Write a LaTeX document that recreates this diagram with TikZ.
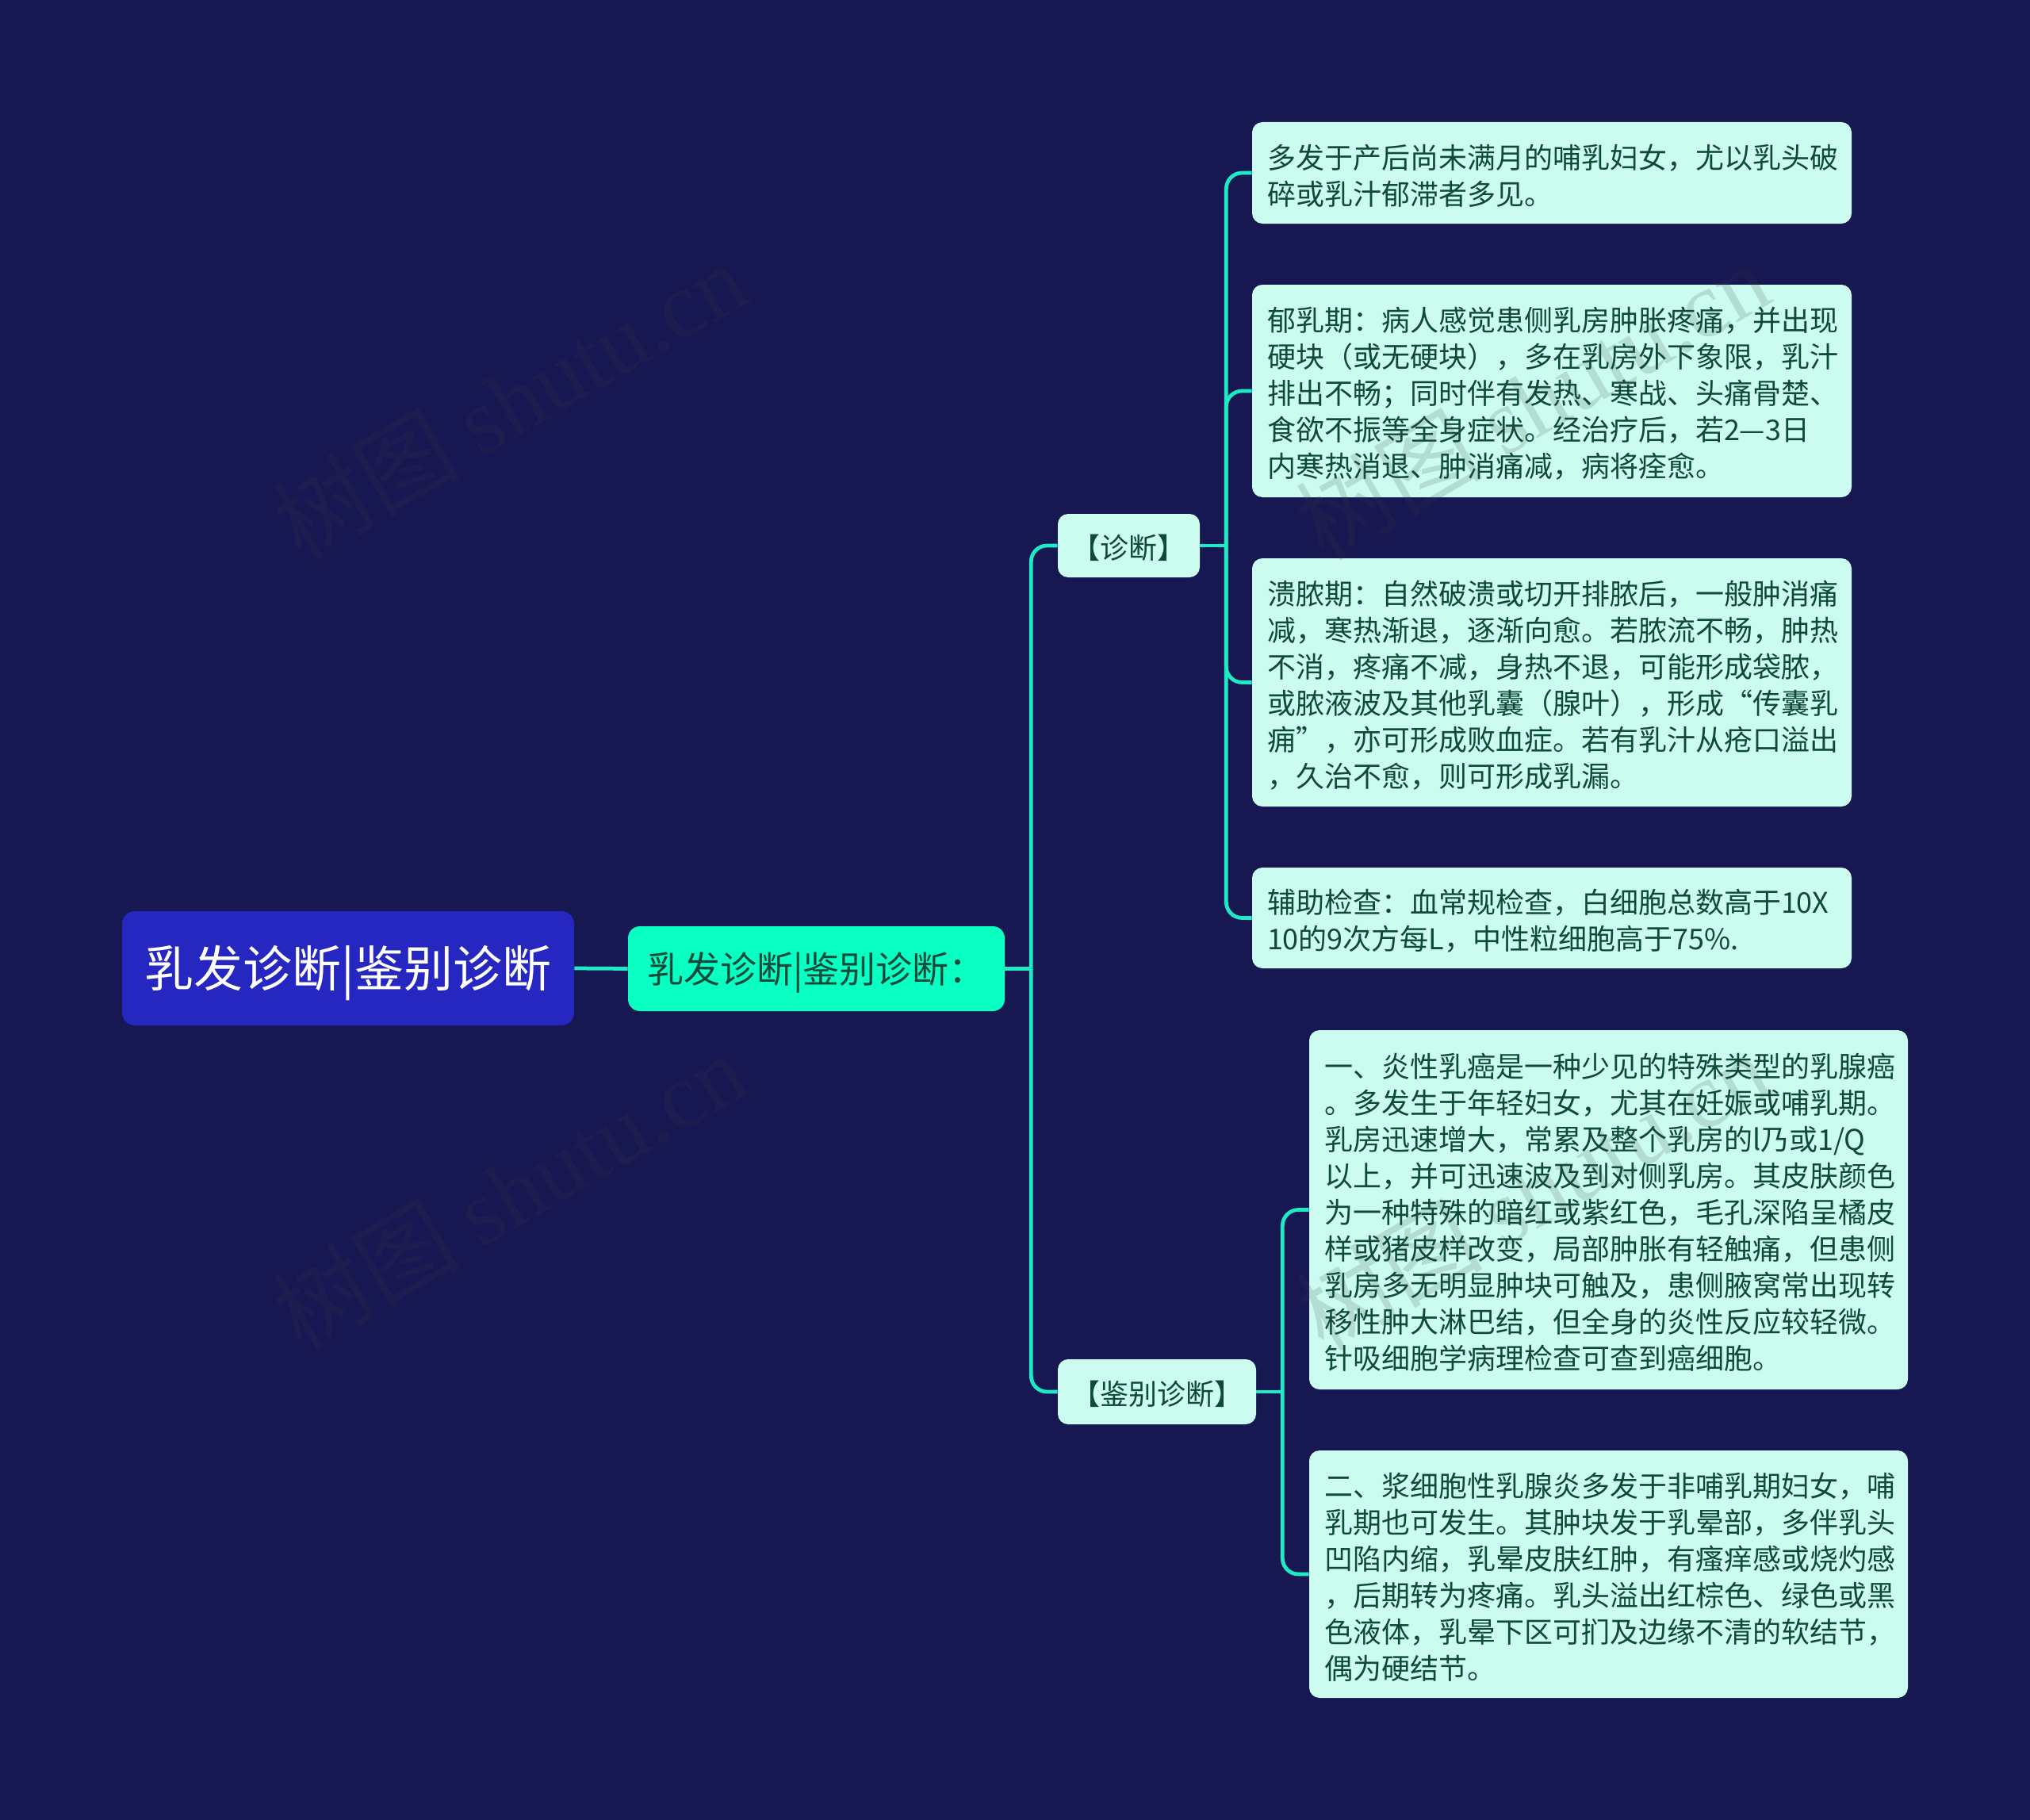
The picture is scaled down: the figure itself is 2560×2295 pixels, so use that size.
\documentclass[tikz,border=0pt]{standalone}
\usepackage{fontspec}
\setmainfont{Noto Sans CJK SC}
\newfontfamily\wmserif{Liberation Serif}
\definecolor{bgc}{HTML}{171752}
\definecolor{rootc}{HTML}{2626C0}
\definecolor{secc}{HTML}{0AFFC2}
\definecolor{leafc}{HTML}{CCFCF0}
\definecolor{linkc}{HTML}{1EEBC5}
\definecolor{inkc}{HTML}{0E4A3C}
\definecolor{wmc}{HTML}{3C4646}
\newcommand\pxf[2]{\fontsize{#1pt}{#2pt}\selectfont}
\newcommand\lowered[2]{\raisebox{#1}[\height][\depth]{#2}}
\tikzset{
  x=0.02cm,y=-0.02cm,
  plate/.style={inner ysep=0pt,inner xsep=0.38cm,text=inkc,fill=leafc,rounded corners=0.26cm,font=\pxf{20.49}{26.18}},
  tag/.style={inner sep=0pt,align=center,text=inkc,fill=leafc,rounded corners=0.26cm,font=\pxf{20.49}{26.18}},
  rootbox/.style={inner sep=0pt,align=center,text=white,fill=rootc,rounded corners=0.32cm,font=\pxf{35.28}{42}},
  secbox/.style={inner sep=0pt,align=center,text=inkc,fill=secc,rounded corners=0.3cm,font=\pxf{26.18}{32}},
  link/.style={draw=linkc,line width=0.095cm,rounded corners=0.4cm},
  stem/.style={draw=linkc,line width=0.095cm},
  wmark/.style={rotate=30,text=wmc,opacity=0.17,inner sep=0pt,font=\pxf{67}{75}}
}
\newcommand\platenode[6]{%
  \pgfmathsetlengthmacro\bh{(#5-#3)*0.02cm}%
  \pgfmathsetlengthmacro\tw{(#4-#2-38)*0.02cm}%
  \node[plate,minimum height=\bh] (#1) at ({(#2+#4)/2},{(#3+#5)/2}) {\lowered{-0.065cm}{\parbox{\tw}{\raggedright #6}}};}
\newcommand\fixnode[7]{%
  \pgfmathsetlengthmacro\bw{(#5-#3)*0.02cm}%
  \pgfmathsetlengthmacro\bh{(#6-#4)*0.02cm}%
  \node[#1,minimum width=\bw,minimum height=\bh] (#2) at ({(#3+#5)/2},{(#4+#6)/2}) {#7};}
\begin{document}
\begin{tikzpicture}
\fill[bgc] (0,0) rectangle (2560,2295);
\useasboundingbox (0,0) rectangle (2560,2295);
\fixnode{rootbox}{root}{154}{1149}{724}{1293}{\lowered{-0.12cm}{乳发诊断|鉴别诊断}}
\fixnode{secbox}{sec}{792}{1168}{1267}{1275}{\lowered{-0.1cm}{乳发诊断|鉴别诊断：}}
\fixnode{tag}{zd}{1334}{648}{1513}{728}{\lowered{-0.065cm}{【诊断】}}
\fixnode{tag}{jb}{1334}{1714}{1584}{1796}{\lowered{-0.065cm}{【鉴别诊断】}}
\platenode{a}{1579}{154}{2335}{282}{多发于产后尚未满月的哺乳妇女，尤以乳头破\\碎或乳汁郁滞者多见。}
\platenode{b}{1579}{359}{2335}{627}{郁乳期：病人感觉患侧乳房肿胀疼痛，并出现\\硬块（或无硬块），多在乳房外下象限，乳汁\\排出不畅；同时伴有发热、寒战、头痛骨楚、\\食欲不振等全身症状。经治疗后，若2—3日\\内寒热消退、肿消痛减，病将痊愈。}
\platenode{c}{1579}{704}{2335}{1017}{溃脓期：自然破溃或切开排脓后，一般肿消痛\\减，寒热渐退，逐渐向愈。若脓流不畅，肿热\\不消，疼痛不减，身热不退，可能形成袋脓，\\或脓液波及其他乳囊（腺叶），形成“传囊乳\\痈”，亦可形成败血症。若有乳汁从疮口溢出\\，久治不愈，则可形成乳漏。}
\platenode{d}{1579}{1094}{2335}{1221}{辅助检查：血常规检查，白细胞总数高于10X\\10的9次方每L，中性粒细胞高于75\%.}
\platenode{e}{1651}{1299}{2406}{1752}{一、炎性乳癌是一种少见的特殊类型的乳腺癌\\。多发生于年轻妇女，尤其在妊娠或哺乳期。\\乳房迅速增大，常累及整个乳房的l乃或1/Q\\以上，并可迅速波及到对侧乳房。其皮肤颜色\\为一种特殊的暗红或紫红色，毛孔深陷呈橘皮\\样或猪皮样改变，局部肿胀有轻触痛，但患侧\\乳房多无明显肿块可触及，患侧腋窝常出现转\\移性肿大淋巴结，但全身的炎性反应较轻微。\\针吸细胞学病理检查可查到癌细胞。}
\platenode{f}{1651}{1829}{2406}{2141}{二、浆细胞性乳腺炎多发于非哺乳期妇女，哺\\乳期也可发生。其肿块发于乳晕部，多伴乳头\\凹陷内缩，乳晕皮肤红肿，有瘙痒感或烧灼感\\，后期转为疼痛。乳头溢出红棕色、绿色或黑\\色液体，乳晕下区可扪及边缘不清的软结节，\\偶为硬结节。}
\coordinate (tsec) at ([xshift=0.66cm]sec.east);
\coordinate (tzd) at ([xshift=0.66cm]zd.east);
\coordinate (tjb) at ([xshift=0.66cm]jb.east);
\draw[stem] (root.east) -- (sec.west);
\draw[stem] (sec.east) -- (tsec);
\draw[stem] (zd.east) -- (tzd);
\draw[stem] (jb.east) -- (tjb);
\draw[link] (tsec) |- (zd.west);
\draw[link] (tsec) |- (jb.west);
\draw[link] (tzd) |- (a.west);
\draw[link] (tzd) |- (b.west);
\draw[link] (tzd) |- (c.west);
\draw[link] (tzd) |- (d.west);
\draw[link] (tjb) |- (e.west);
\draw[link] (tjb) |- (f.west);
\node[wmark] (w1) at (642,505) {树图 {\wmserif shutu.cn}};
\node[wmark] (w2) at (642,1502) {树图 {\wmserif shutu.cn}};
\node[wmark] (w3) at (1932,505) {树图 {\wmserif shutu.cn}};
\node[wmark] (w4) at (1932,1502) {树图 {\wmserif shutu.cn}};
\end{tikzpicture}
\end{document}
